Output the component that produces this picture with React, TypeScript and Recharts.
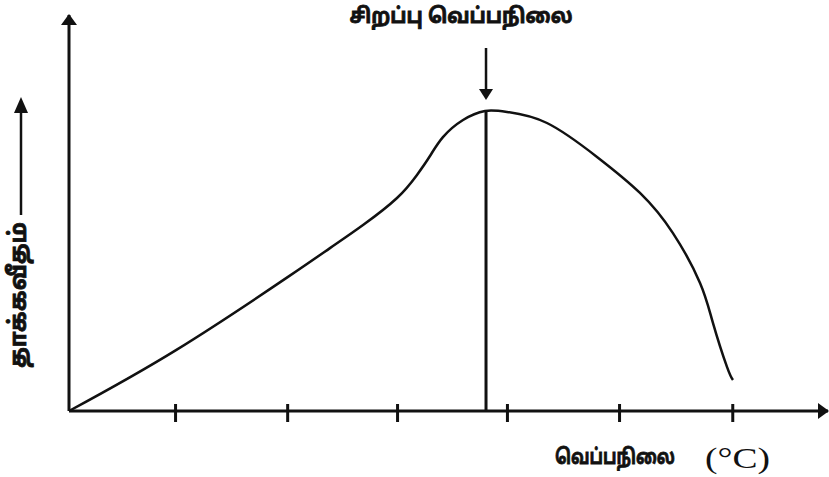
import React from 'react';
import { LineChart, Line, XAxis, YAxis, ReferenceLine } from 'recharts';

// Temperature (x) and reaction rate (y)
const temperature = [0, 9.64, 19.73, 23.51, 26.49, 29.55, 31.35, 32.52, 33.69, 35.5, 37.48, 39.46, 43.06, 47.57, 51.44, 54.41, 56.85, 58.02, 59.28, 59.82];
const rate = [0, 20.3, 44.7, 54.3, 62, 71, 78.7, 85, 91.3, 97, 100, 99.7, 96, 84.7, 72.7, 59.3, 42.7, 29.3, 14.7, 10.3];
const tickValues = [9.6, 19.7, 29.6, 39.5, 49.6, 59.8];
const optimumTemp = 37.57;
const optimumRate = 100;
const arrowTop = 121;
const arrowTip = 103.7;

const titleText = 'சிறப்பு வெப்பநிலை';
const xLabelText = 'வெப்பநிலை';
const xUnitText = '(°C)';
const yLabelText = 'தாக்கவீதம்';

const data = temperature.map((t, i) => ({ t, r: rate[i] }));

const TAMIL = "'Noto Sans Tamil', 'Lohit Tamil', 'Noto Sans', 'DejaVu Sans', sans-serif";
const SERIF = "'Liberation Serif', 'DejaVu Serif', serif";

const CrossTick = (props: any) => {
  const { x, y } = props;
  return <line x1={x} x2={x} y1={y - 7} y2={y + 11} stroke="#111" strokeWidth={3} />;
};

const DownArrow = (props: any) => {
  const { x1, y1, x2, y2 } = props;
  const headH = 11;
  const headW = 7;
  return (
    <g>
      <line x1={x1} y1={y1} x2={x2} y2={y2 - headH + 1} stroke="#111" strokeWidth={2.5} />
      <path d={`M${x2 - headW},${y2 - headH} L${x2 + headW},${y2 - headH} L${x2},${y2} Z`} fill="#111" />
    </g>
  );
};

const TitleLabel = () => (
  <text x={461} y={18} textAnchor="middle" dominantBaseline="central" fontFamily={TAMIL} fontWeight="bold" fontSize={21} fill="#111" stroke="#111" strokeWidth={0.8} textLength={223} lengthAdjust="spacingAndGlyphs">
    {titleText}
  </text>
);

const XLabel = () => (
  <g>
    <text x={555} y={459} dominantBaseline="central" fontFamily={TAMIL} fontWeight="bold" fontSize={21} fill="#111" stroke="#111" strokeWidth={0.8} textLength={120} lengthAdjust="spacingAndGlyphs">
      {xLabelText}
    </text>
    <text x={705} y={468} fontFamily={SERIF} fontSize={29} fill="#111" textLength={65} lengthAdjust="spacingAndGlyphs">
      {xUnitText}
    </text>
  </g>
);

const YLabel = () => (
  <g>
    <text x={20} y={295} transform="rotate(-90 20 295)" textAnchor="middle" dominantBaseline="central" fontFamily={TAMIL} fontWeight="bold" fontSize={24} fill="#111" stroke="#111" strokeWidth={0.8} textLength={146} lengthAdjust="spacingAndGlyphs">
      {yLabelText}
    </text>
    <line x1={21} y1={215} x2={21} y2={110} stroke="#111" strokeWidth={2.5} />
    <path d="M14,113 L28,113 L21,97 Z" fill="#111" />
  </g>
);

export default function App() {
  return (
    <div style={{ position: 'absolute', left: 0, top: 0, width: 829, height: 477, background: '#fff' }}>
      <svg width={0} height={0} style={{ position: 'absolute' }}>
        <defs>
          <marker id="axisArrow" viewBox="0 0 11 16" refX={10} refY={8} markerWidth={11} markerHeight={16} markerUnits="userSpaceOnUse" orient="auto-start-reverse">
            <path d="M0,0 L11,8 L0,16 Z" fill="#111" />
          </marker>
        </defs>
      </svg>
      <LineChart width={829} height={477} data={data} margin={{ top: 15, right: 1, bottom: 36, left: 39 }}>
        <XAxis
          dataKey="t"
          type="number"
          domain={[0, 68.38]}
          ticks={tickValues}
          tick={<CrossTick />}
          tickLine={false}
          tickSize={0}
          tickMargin={0}
          height={30}
          axisLine={{ stroke: '#111', strokeWidth: 3, markerEnd: 'url(#axisArrow)' }}
          label={<XLabel />}
        />
        <YAxis
          type="number"
          domain={[0, 132]}
          width={30}
          tick={false}
          tickLine={false}
          axisLine={{ stroke: '#111', strokeWidth: 3, markerStart: 'url(#axisArrow)' }}
          label={<YLabel />}
        />
        <ReferenceLine
          segment={[{ x: optimumTemp, y: 0 }, { x: optimumTemp, y: optimumRate }]}
          stroke="#111"
          strokeWidth={3}
          ifOverflow="visible"
        />
        <ReferenceLine
          segment={[{ x: optimumTemp, y: arrowTop }, { x: optimumTemp, y: arrowTip }]}
          ifOverflow="visible"
          shape={<DownArrow />}
          label={<TitleLabel />}
        />
        <Line
          type="natural"
          dataKey="r"
          stroke="#111"
          strokeWidth={2.5}
          dot={false}
          activeDot={false}
          isAnimationActive={false}
        />
      </LineChart>
    </div>
  );
}
